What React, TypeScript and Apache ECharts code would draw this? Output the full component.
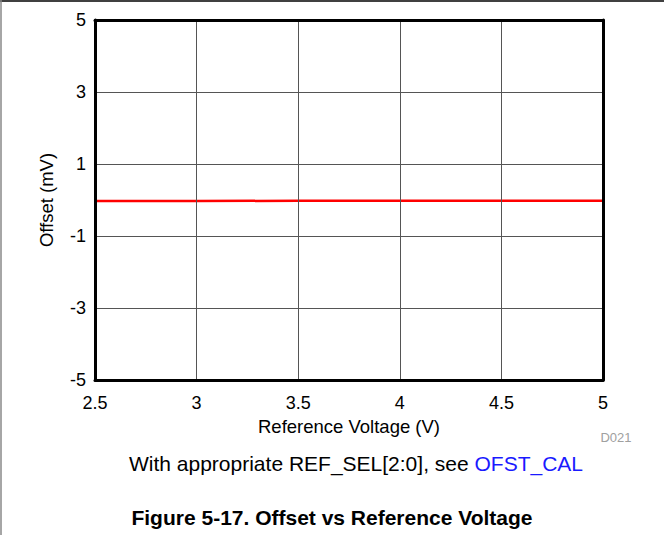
import React, { useEffect, useRef } from "react";
import * as echarts from "echarts";

const xValues = [2.5, 3, 3.5, 4, 4.5, 5];
const offsetValues = [-0.03, -0.03, -0.02, -0.02, -0.02, -0.02];
const xTicks = ["2.5", "3", "3.5", "4", "4.5", "5"];
const yTicks = ["-5", "-3", "-1", "1", "3", "5"];

const FONT = "Liberation Sans, Arial, Helvetica, sans-serif";

export default function App() {
  const ref = useRef<HTMLDivElement>(null);
  useEffect(() => {
    if (!ref.current) return;
    const chart = echarts.init(ref.current, undefined, { renderer: "svg" });
    const gridLine = { show: true, lineStyle: { color: "#555", width: 1 } };
    chart.setOption({
      animation: false,
      backgroundColor: "#fff",
      textStyle: { fontFamily: FONT },
      grid: { left: 95, top: 20, width: 508, height: 360, containLabel: false },
      xAxis: [
        {
          type: "value",
          min: 2.5,
          max: 5,
          interval: 0.5,
          name: "Reference Voltage (V)",
          nameLocation: "middle",
          nameGap: 35,
          nameTextStyle: { color: "#000", fontSize: 18.5, fontFamily: FONT },
          axisLine: { show: true, onZero: false, lineStyle: { color: "#000", width: 3 } },
          axisTick: { show: false },
          axisLabel: {
            color: "#000",
            fontSize: 18,
            fontFamily: FONT,
            margin: 14,
            formatter: (v: number) => {
              const i = xValues.indexOf(v);
              return i >= 0 ? xTicks[i] : "";
            },
          },
          splitLine: gridLine,
          z: 5,
        },
        {
          type: "value",
          position: "top",
          min: 2.5,
          max: 5,
          interval: 0.5,
          axisLine: { show: true, onZero: false, lineStyle: { color: "#000", width: 3 } },
          axisTick: { show: false },
          axisLabel: { show: false },
          splitLine: { show: false },
          z: 5,
        },
      ],
      yAxis: [
        {
          type: "value",
          min: -5,
          max: 5,
          interval: 2,
          name: "Offset (mV)",
          nameLocation: "middle",
          nameGap: 39,
          nameTextStyle: { color: "#000", fontSize: 18.5, fontFamily: FONT },
          axisLine: { show: true, onZero: false, lineStyle: { color: "#000", width: 3 } },
          axisTick: { show: false },
          axisLabel: {
            color: "#000",
            fontSize: 18,
            fontFamily: FONT,
            margin: 9,
            formatter: (v: number) => {
              const i = yTicks.indexOf(String(v));
              return i >= 0 ? yTicks[i] : "";
            },
          },
          splitLine: gridLine,
          z: 5,
        },
        {
          type: "value",
          position: "right",
          min: -5,
          max: 5,
          interval: 2,
          axisLine: { show: true, onZero: false, lineStyle: { color: "#000", width: 3 } },
          axisTick: { show: false },
          axisLabel: { show: false },
          splitLine: { show: false },
          z: 5,
        },
      ],
      series: [
        {
          type: "line",
          data: xValues.map((x, i) => [x, offsetValues[i]]),
          showSymbol: false,
          lineStyle: { color: "#ff0000", width: 2.5 },
          z: 3,
        },
      ],
      graphic: [
        { type: "line", shape: { x1: 0, y1: 1, x2: 664, y2: 1 }, style: { stroke: "#000", lineWidth: 1.5 } },
        { type: "line", shape: { x1: 1, y1: 0, x2: 1, y2: 535 }, style: { stroke: "#888", lineWidth: 1.5 } },
        {
          type: "text",
          x: 616,
          y: 437,
          style: { text: "D021", fill: "#a0a0a0", fontSize: 13, fontFamily: FONT, align: "center", verticalAlign: "middle" },
        },
        {
          type: "text",
          x: 356,
          y: 463,
          style: {
            text: "{a|With appropriate REF_SEL[2:0], see }{b|OFST_CAL}",
            align: "center",
            verticalAlign: "middle",
            rich: {
              a: { fill: "#000", fontSize: 21, fontFamily: FONT },
              b: { fill: "#1a1aff", fontSize: 21, fontFamily: FONT },
            },
          },
        },
        {
          type: "text",
          x: 332,
          y: 517,
          style: {
            text: "Figure 5-17. Offset vs Reference Voltage",
            fill: "#000",
            fontSize: 21,
            fontWeight: "bold",
            fontFamily: FONT,
            align: "center",
            verticalAlign: "middle",
          },
        },
      ],
    });
    return () => chart.dispose();
  }, []);
  return (
    <div
      ref={ref}
      style={{ position: "fixed", left: 0, top: 0, width: 664, height: 535 }}
    />
  );
}
